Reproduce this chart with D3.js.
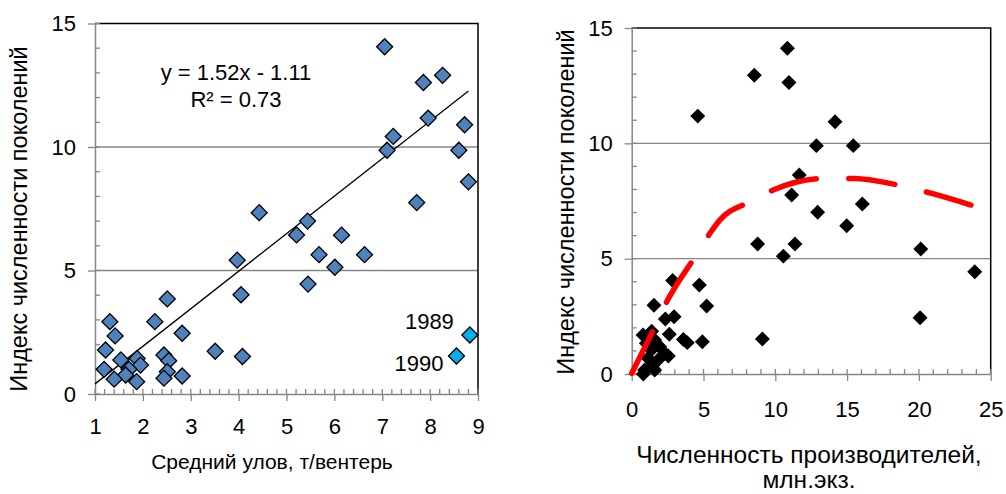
<!DOCTYPE html>
<html><head><meta charset="utf-8">
<script src="https://cdn.jsdelivr.net/npm/d3@7"></script>
<style>
html,body{margin:0;padding:0;background:#fff;}
svg text{font-family:"Liberation Sans",Arial,sans-serif;fill:#000;}
</style></head>
<body><svg id="c" width="1006" height="494"></svg>
<script>
// ---- Data ----
// Left chart: mean catch (t / trap net) vs generation abundance index
const leftX = [7.05,7.86,8.26,7.96,8.72,7.23,7.10,8.60,8.80,7.72,4.43,5.44,5.21,6.15,5.68,6.63,6.01,3.97,5.45,4.05,2.51,2.25,1.31,1.42,2.82,1.22,3.51,4.08,1.54,1.88,1.95,2.44,2.54,1.19,1.71,2.51,2.82,1.64,1.40,1.87,2.44];
const leftY = [14.06,12.61,12.90,11.17,10.90,10.43,9.87,9.87,8.59,7.75,7.34,7.00,6.44,6.43,5.64,5.64,5.13,5.42,4.45,4.02,3.85,2.93,2.93,2.35,2.46,1.78,1.73,1.52,1.38,1.44,1.17,1.58,1.35,1.00,1.00,0.90,0.73,0.77,0.60,0.50,0.64];
const highlightYears = ["1989","1990"];
const highlightX = [8.83,8.55];
const highlightY = [2.39,1.54];
const trendCoef = [1.52,-1.11];       // slope, intercept
const trendRange = [1.0,8.8];
const trendLabels = ["y = 1.52x - 1.11","R² = 0.73"];
const leftXTicks = [1,2,3,4,5,6,7,8,9];
const leftYTicks = [0,5,10,15];

// Right chart: spawners (mln) vs generation abundance index
const rightX = [10.84,8.54,10.95,4.60,14.16,12.86,15.43,11.67,11.14,12.95,16.06,14.97,8.77,11.37,10.56,20.13,23.89,20.08,9.10,4.71,2.85,5.22,4.92,1.55,2.34,2.95,2.62,3.60,3.87,0.79,1.39,1.02,1.60,1.95,1.37,2.30,1.14,1.83,1.48,0.90,1.60,2.55,0.81];
const rightY = [14.12,12.95,12.64,11.18,10.94,9.90,9.90,8.63,7.76,7.01,7.37,6.43,5.64,5.64,5.11,5.42,4.43,2.44,1.52,3.86,4.05,2.95,1.40,2.98,2.38,2.48,1.72,1.50,1.36,1.69,1.85,1.33,1.47,1.18,1.04,0.90,0.68,0.61,0.39,0.17,0.17,0.78,0.00];
const curveX = [0,1.62,2.44,4.41,5.45,6.15,8.24,9.86,13.58,15.43,19.03,20.89,24.37];
const curveY = [0.03,2.05,3.13,5.08,6.10,6.68,7.47,7.98,8.48,8.48,8.12,7.83,7.18];
const rightXTicks = [0,5,10,15,20,25];
const rightYTicks = [0,5,10,15];

const yTitle = "Индекс численности поколений";
const leftXTitle = "Средний улов, т/вентерь";
const rightXTitle = ["Численность производителей,","млн.экз."];

// ---- Drawing ----
const svg = d3.select("#c");
const AX = "#868686";
const diamond = d3.symbol().type(d3.symbolSquare);

function frame(g, x, y, xTicks, yTicks, xMinorStep, xPad, yPad){
  const [x0,x1] = x.range(), [y0,y1] = y.range();
  g.append("g").selectAll("line").data(yTicks.filter(t=>t>0 && t<15)).join("line")
    .attr("x1",x0).attr("x2",x1).attr("y1",d=>y(d)).attr("y2",d=>y(d))
    .attr("stroke",AX).attr("stroke-width",1.3);
  g.append("path").attr("d",`M${x0},${y1}H${x1}V${y0}`).attr("fill","none").attr("stroke","#000").attr("stroke-width",1.5);
  const xd = x.domain(), yd = y.domain();
  const xm = d3.range(xd[0], xd[1]+1e-9, xMinorStep);
  g.append("g").selectAll("line").data(xm).join("line")
    .attr("x1",d=>x(d)).attr("x2",d=>x(d)).attr("y1",y0).attr("y2",y0-5)
    .attr("stroke",AX).attr("stroke-width",1.3);
  const ym = d3.range(yd[0], yd[1]+1e-9, 1);
  g.append("g").selectAll("line").data(ym).join("line")
    .attr("x1",x0).attr("x2",x0+5).attr("y1",d=>y(d)).attr("y2",d=>y(d))
    .attr("stroke",AX).attr("stroke-width",1.3);
  const ax = g.append("g").attr("transform",`translate(0,${y0})`)
    .call(d3.axisBottom(x).tickValues(xTicks).tickSizeInner(7).tickSizeOuter(0).tickPadding(xPad).tickFormat(d3.format("d")));
  const ay = g.append("g").attr("transform",`translate(${x0},0)`)
    .call(d3.axisLeft(y).tickValues(yTicks).tickSizeInner(7).tickSizeOuter(0).tickPadding(yPad).tickFormat(d3.format("d")));
  [ax,ay].forEach(a=>{
    a.select(".domain").attr("stroke",AX).attr("stroke-width",1.5);
    a.selectAll(".tick line").attr("stroke",AX).attr("stroke-width",1.3);
    a.selectAll(".tick text").attr("font-size",22).attr("fill","#000").style("font-family",'"Liberation Sans",Arial,sans-serif');
  });
}

// Left chart
const xL = d3.scaleLinear().domain([1,9]).range([95,478]);
const yL = d3.scaleLinear().domain([0,15]).range([394,23.5]);
const gL = svg.append("g");
frame(gL, xL, yL, leftXTicks, leftYTicks, 0.2, 17, 12);

gL.append("line")
  .attr("x1",xL(trendRange[0])).attr("y1",yL(trendCoef[0]*trendRange[0]+trendCoef[1]))
  .attr("x2",xL(trendRange[1])).attr("y2",yL(trendCoef[0]*trendRange[1]+trendCoef[1]))
  .attr("stroke","#000").attr("stroke-width",1.3);

gL.append("g").selectAll("path").data(leftX.map((v,i)=>[v,leftY[i]])).join("path")
  .attr("transform",d=>`translate(${xL(d[0])},${yL(d[1])}) rotate(45)`)
  .attr("d",diamond.size(128)).attr("fill","#4F81BD").attr("stroke","#000").attr("stroke-width",1.3);

gL.append("g").selectAll("path").data(highlightX.map((v,i)=>[v,highlightY[i]])).join("path")
  .attr("transform",d=>`translate(${xL(d[0])},${yL(d[1])}) rotate(45)`)
  .attr("d",diamond.size(128)).attr("fill","#00B0F0").attr("stroke","#000").attr("stroke-width",1.3);

gL.append("g").selectAll("text").data(highlightYears).join("text")
  .attr("x",(d,i)=>xL(highlightX[i])-(i===0?16:13)).attr("y",(d,i)=>yL(highlightY[i])+(i===0?-6:15))
  .attr("text-anchor","end").attr("font-size",22).text(d=>d);

gL.append("g").selectAll("text").data(trendLabels).join("text")
  .attr("x",236).attr("y",(d,i)=>80+i*27).attr("text-anchor","middle").attr("font-size",22).text(d=>d);

svg.append("text").attr("transform","translate(27,219) rotate(-90)").attr("text-anchor","middle")
  .attr("font-size",23.5).text(yTitle);
svg.append("text").attr("x",272).attr("y",469).attr("text-anchor","middle").attr("font-size",21).text(leftXTitle);

// Right chart
const xR = d3.scaleLinear().domain([0,25]).range([631.7,990.7]);
const yR = d3.scaleLinear().domain([0,15]).range([374,28]);
const gR = svg.append("g");
frame(gR, xR, yR, rightXTicks, rightYTicks, 1, 20, 12);

gR.append("g").selectAll("path").data(rightX.map((v,i)=>[v,rightY[i]])).join("path")
  .attr("transform",d=>`translate(${xR(d[0])},${yR(d[1])}) rotate(45)`)
  .attr("d",diamond.size(112)).attr("fill","#000");

gR.append("path").datum(curveX.map((v,i)=>[v,curveY[i]]))
  .attr("d",d3.line().x(d=>xR(d[0])).y(d=>yR(d[1])).curve(d3.curveMonotoneX))
  .attr("fill","none").attr("stroke","#FF0000").attr("stroke-width",5.5)
  .attr("stroke-linecap","round").attr("stroke-dasharray","46.5,32.5");

svg.append("text").attr("transform","translate(574,202) rotate(-90)").attr("text-anchor","middle")
  .attr("font-size",23.5).text(yTitle);
svg.append("g").selectAll("text").data(rightXTitle).join("text")
  .attr("x",809).attr("y",(d,i)=>463+i*25).attr("text-anchor","middle").attr("font-size",24.5).text(d=>d);
</script></body></html>
